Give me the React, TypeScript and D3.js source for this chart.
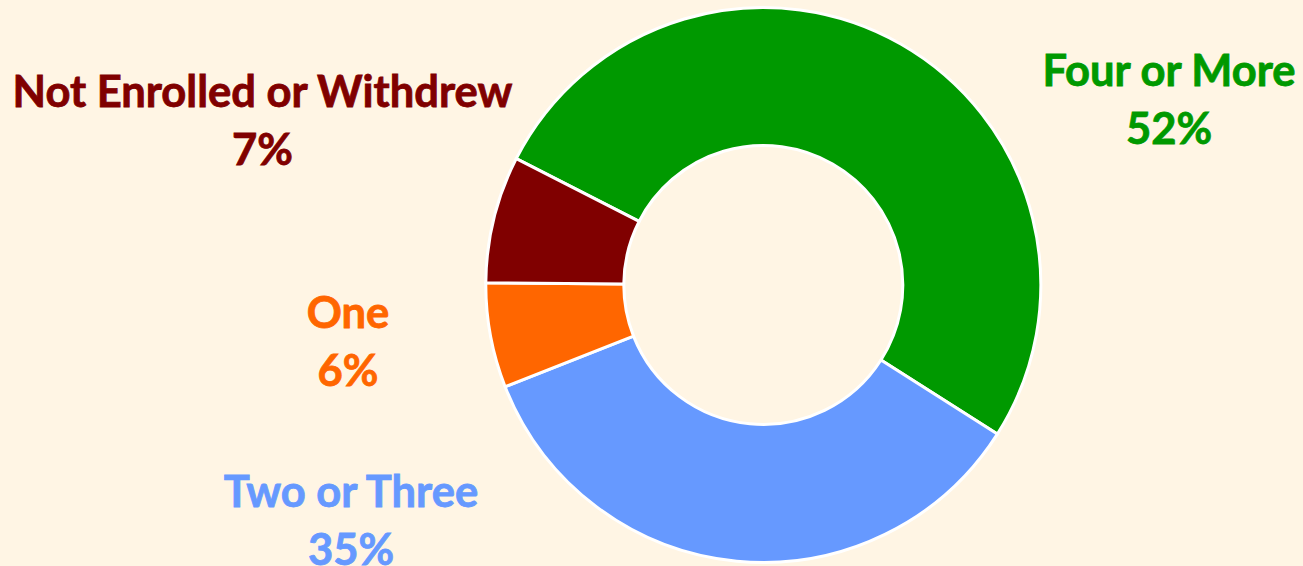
import React from "react";
import * as d3 from "d3";

const categories = ["Four or More", "Two or Three", "One", "Not Enrolled or Withdrew"];
const values = [51.5, 35.0, 6.1, 7.4];
const pctLabels = ["52%", "35%", "6%", "7%"];
const colors = ["#009900", "#6699FF", "#FF6600", "#800000"];
const labelPos: [number, number][] = [
  [1169, 86],
  [351, 507],
  [348, 328],
  [262.5, 107],
];

const W = 1303;
const H = 566;
const cx = 763.3;
const cy = 285;
const outerR = 277.5;
const innerR = 139.5;
const startDeg = -62.9;

export default function App() {
  const pie = d3
    .pie<number>()
    .sort(null)
    .value((d) => d)
    .startAngle((startDeg * Math.PI) / 180)
    .endAngle(((startDeg + 360) * Math.PI) / 180);
  const arcs = pie(values);
  const arcGen = d3.arc<d3.PieArcDatum<number>>().innerRadius(innerR).outerRadius(outerR);

  return (
    <div style={{ position: "absolute", left: 0, top: 0 }}>
      <svg width={W} height={H} style={{ display: "block" }}>
        <rect width={W} height={H} fill="#FFF5E4" />
        <g transform={`translate(${cx},${cy})`}>
          {arcs.map((a, i) => (
            <path key={i} d={arcGen(a) || ""} fill={colors[i]} stroke="#FFFFFF" strokeWidth={3} strokeLinejoin="round" />
          ))}
        </g>
        {categories.map((c, i) => (
          <text
            key={c}
            x={labelPos[i][0]}
            y={labelPos[i][1]}
            textAnchor="middle"
            fill={colors[i]}
            stroke={colors[i]}
            strokeWidth={0.8}
            style={{ fontFamily: "Lato, 'Open Sans', sans-serif", fontWeight: 700, fontSize: 43.5 }}
          >
            <tspan x={labelPos[i][0]} dy={0}>{c}</tspan>
            <tspan x={labelPos[i][0]} dy={57.5}>{pctLabels[i]}</tspan>
          </text>
        ))}
      </svg>
    </div>
  );
}
